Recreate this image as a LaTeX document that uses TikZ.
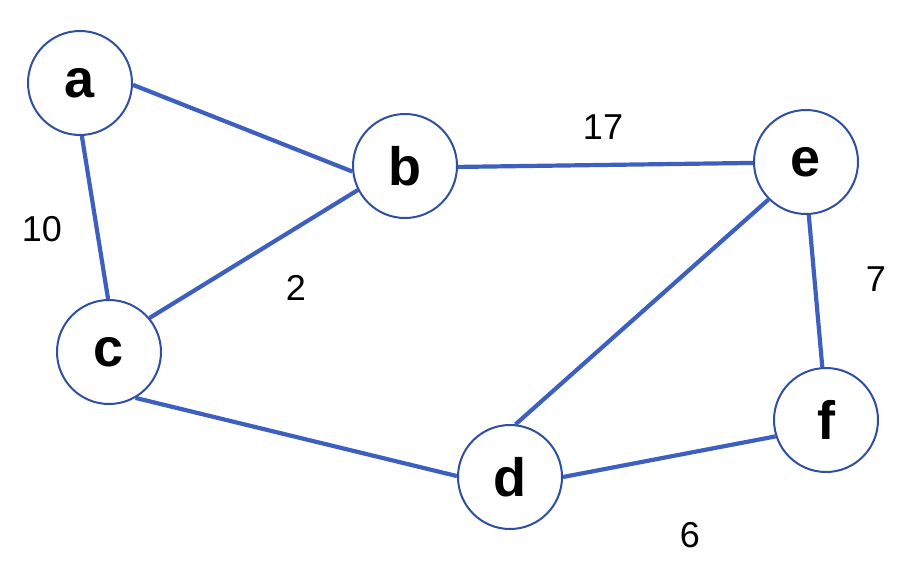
\documentclass[tikz,border=0pt]{standalone}
\usepackage{fontspec}
\setmainfont{Liberation Sans}
\usetikzlibrary{backgrounds}
\definecolor{edgeblue}{HTML}{3D5FC0}
\definecolor{ringblue}{HTML}{2F4FA0}
\begin{document}
\begin{tikzpicture}[x=1pt,y=-1pt,
  vtx/.style={circle,draw=ringblue,line width=2pt,fill=white,minimum size=104pt,inner sep=0pt,font=\fontsize{54}{54}\selectfont\bfseries},
  edg/.style={draw=edgeblue,line width=4.2pt},
  wt/.style={font=\fontsize{36}{36}\selectfont,inner sep=0pt}]
\useasboundingbox (0,0) rectangle (916,574);
\node[vtx] (a) at (80,83) {a};
\node[vtx] (b) at (405,166) {b};
\node[vtx] (c) at (109,352) {c};
\node[vtx] (d) at (510,477) {d};
\node[vtx] (e) at (806,162) {e};
\node[vtx] (f) at (826,420) {f};
\begin{scope}[on background layer]
\draw[edg] (a.-2) -- (b.186);
\draw[edg] (a.272) -- (c.91);
\draw[edg] (c.40) -- (b.207);
\draw[edg] (c.300) -- (d.179);
\draw[edg] (b.359) -- (e.181);
\draw[edg] (e.225) -- (d.84);
\draw[edg] (e.273) -- (f.94);
\draw[edg] (d.0) -- (f.198);
\end{scope}
\node[wt] (w1) at (42,229) {10};
\node[wt] (w2) at (603,127) {17};
\node[wt] (w3) at (296,288) {2};
\node[wt] (w4) at (876,279) {7};
\node[wt] (w5) at (690,535) {6};
\end{tikzpicture}
\end{document}
